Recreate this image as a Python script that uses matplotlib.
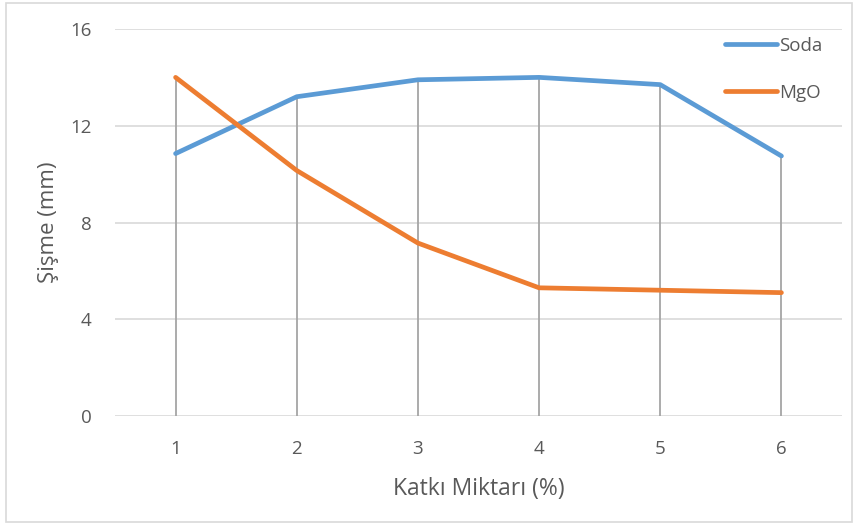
import matplotlib.pyplot as plt
import numpy as np
from matplotlib.patches import Rectangle

plt.rcParams["font.family"] = ["Open Sans", "DejaVu Sans"]

categories = ["1", "2", "3", "4", "5", "6"]
soda = [10.85, 13.2, 13.9, 14.0, 13.7, 10.75]
mgo = [14.0, 10.15, 7.15, 5.3, 5.2, 5.1]

blue = "#5B9BD5"
orange = "#ED7D31"
text_col = "#595959"

x = np.arange(len(categories))

fig = plt.figure(figsize=(8.58, 5.24), dpi=100)
ax = fig.add_axes([115 / 858, 1 - 416 / 524, (842 - 115) / 858, (416 - 29) / 524])

# outer chart border
fig.patches.append(Rectangle((6 / 858, 2 / 524), 846 / 858, 519 / 524, transform=fig.transFigure,
                             fill=False, edgecolor="#D9D9D9", linewidth=1.2))

for v in [4, 8, 12, 16]:
    ax.axhline(v, color="#D9D9D9", linewidth=1.2, zorder=0)
ax.axhline(0, color="#D9D9D9", linewidth=1.2, zorder=1)

# drop lines
top = np.maximum(soda, mgo)
ax.vlines(x, 0, top, color="#A5A5A5", linewidth=1.3, zorder=1)

ax.plot(x, soda, color=blue, linewidth=3.4, solid_capstyle="round", label="Soda", zorder=3)
ax.plot(x, mgo, color=orange, linewidth=3.4, solid_capstyle="round", label="MgO", zorder=3)

ax.set_xlim(-0.5, len(categories) - 0.5)
ax.set_ylim(0, 16)
ax.set_xticks(x)
ax.set_xticklabels(categories)
ax.set_yticks([0, 4, 8, 12, 16])
ax.tick_params(length=0, labelsize=13.5, colors=text_col)
ax.tick_params(axis="x", pad=17)
ax.tick_params(axis="y", pad=17)
for s in ax.spines.values():
    s.set_visible(False)

ax.set_xlabel("Katkı Miktarı (%)", fontsize=16.5, color=text_col, labelpad=14)
ax.set_ylabel("Şişme (mm)", fontsize=16, color=text_col, labelpad=8)

leg = ax.legend(loc="upper left", bbox_to_anchor=(708 / 858, 1 - 20 / 524), bbox_transform=fig.transFigure,
                frameon=False, fontsize=13.5, labelspacing=1.55, handlelength=2.8, handletextpad=0.1,
                labelcolor=text_col)

fig.savefig("out.png", dpi=100)
